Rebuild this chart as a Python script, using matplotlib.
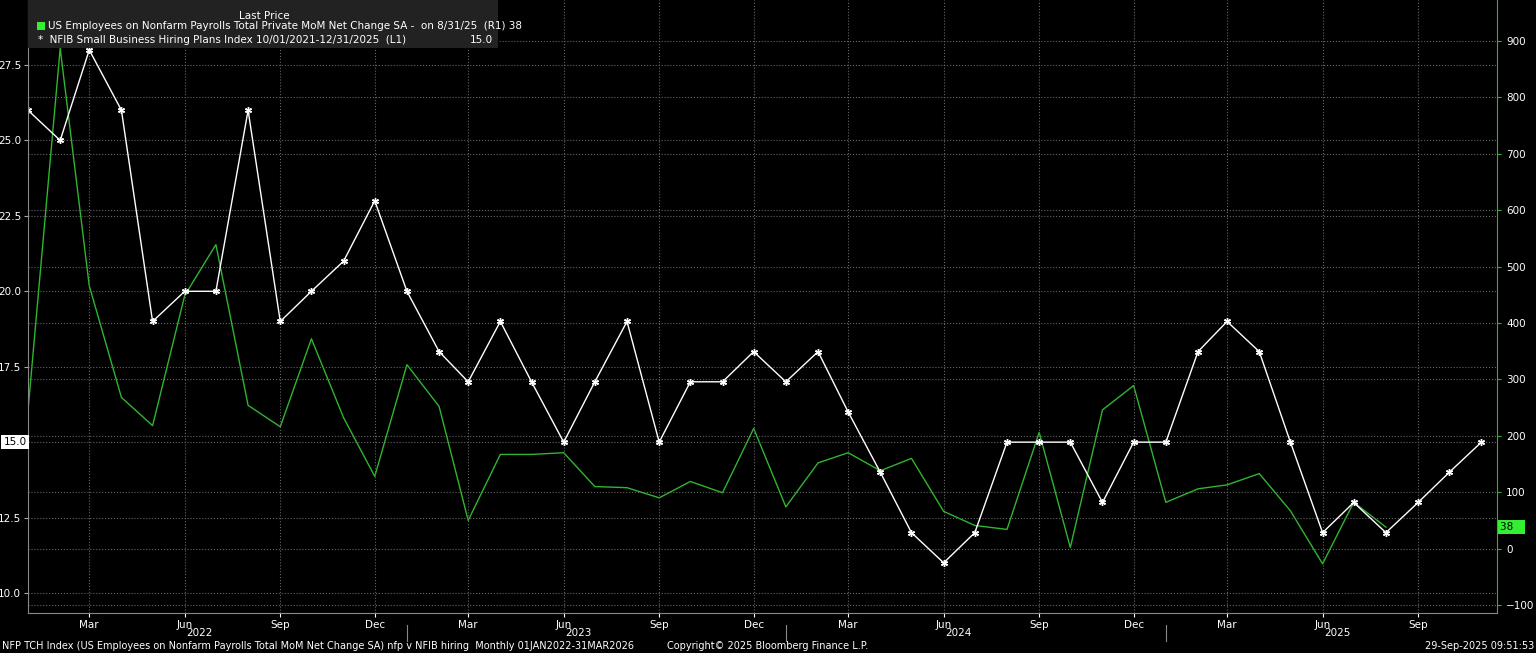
import matplotlib.pyplot as plt
import matplotlib.dates as mdates
import pandas as pd

months = pd.date_range('2022-01-01', '2025-11-01', freq='MS')
nfib = [26, 25, 28, 26, 19, 20, 20, 26, 19, 20, 21, 23,
        20, 18, 17, 19, 17, 15, 17, 19, 15, 17, 17, 18,
        17, 18, 16, 14, 12, 11, 12, 15, 15, 15, 13, 15,
        15, 18, 19, 18, 15, 12, 13, 12, 13, 14, 15]
nfp_months = pd.date_range('2022-01-01', '2025-08-01', freq='MS')
nfp = [245, 887, 466, 268, 218, 449, 539, 254, 216, 372, 232, 128,
       326, 252, 50, 167, 167, 170, 110, 108, 90, 119, 99, 213,
       74, 152, 170, 138, 160, 66, 41, 34, 206, 2, 246, 289,
       82, 106, 113, 133, 67, -27, 82, 38]

green = '#2fb52f'
fig = plt.figure(figsize=(15.36, 6.53), dpi=100, facecolor='black')
ax = fig.add_axes([28 / 1536, 40 / 653, 1469 / 1536, 613 / 653])
ax.set_facecolor('black')
ax2 = ax.twinx()

ax2.plot(nfp_months, nfp, color=green, lw=1)
ax.plot(months, nfib, color='white', lw=1, marker=(6, 2, 0), ms=5)
ax.set_zorder(ax2.get_zorder() + 1)
ax.patch.set_visible(False)

# 10 at 593px, 27.5 at 65px from top; axes spans 0..613
ax.set_ylim(10 - 20 / 30.17, 27.5 + 65 / 30.17)
ax2.set_ylim(-100 - 8 / 0.564, 900 + 41 / 0.564)
ax.set_xlim(pd.Timestamp('2022-01-01'), pd.Timestamp('2025-11-16'))

ax.set_yticks([10, 12.5, 15, 17.5, 20, 22.5, 25, 27.5])
ax.set_yticklabels(['10.0', '12.5', '', '17.5', '20.0', '22.5', '25.0', '27.5'])
ax2.set_yticks(range(-100, 1000, 100))

ax.xaxis.set_major_locator(mdates.MonthLocator(bymonth=[3, 6, 9, 12]))
ax.xaxis.set_major_formatter(mdates.DateFormatter('%b'))
for a in (ax, ax2):
    for s in a.spines.values():
        s.set_visible(False)
ax.spines['left'].set_visible(True)
ax.spines['left'].set_color('#888888')
ax.spines['bottom'].set_visible(True)
ax.spines['bottom'].set_color('#888888')
ax2.spines['right'].set_visible(True)
ax2.spines['right'].set_color(green)
ax.tick_params(axis='both', colors='white', labelsize=7.5, length=3, pad=2)
ax.tick_params(axis='y', colors='#aaaaaa', labelcolor='white')
ax2.tick_params(axis='y', colors=green, labelcolor='white', labelsize=7.5, length=3)

ax.grid(True, color='#666666', ls=':', lw=0.8)
ax2.grid(True, axis='y', color='#666666', ls=':', lw=0.8)

for yr in [2022, 2023, 2024, 2025]:
    ax.text(pd.Timestamp(f'{yr}-06-15'), -0.024, str(yr), transform=ax.get_xaxis_transform(),
            color='white', fontsize=7.5, ha='center', va='top')
for yr in [2023, 2024, 2025]:
    ax.axvline(pd.Timestamp(f'{yr}-01-01'), ymin=-0.045, ymax=-0.02, color='#888888', lw=0.8, clip_on=False)

# last value tags
ax.text(-0.001, 15, '15.0', transform=ax.get_yaxis_transform(), ha='right', va='center',
        fontsize=7.5, color='black', bbox=dict(boxstyle='square,pad=0.2', fc='white', ec='none'))
ax2.text(1.002, 38, '38   ', transform=ax2.get_yaxis_transform(), ha='left', va='center',
         fontsize=7.5, color='black', bbox=dict(boxstyle='square,pad=0.2', fc='#33ee33', ec='none'))

# legend box
fig.patches.append(plt.Rectangle((28 / 1536, 1 - 48 / 653), 470 / 1536, 48 / 653,
                                 transform=fig.transFigure, fc='#222222', ec='none', zorder=5))
fig.text(264 / 1536, 1 - 16 / 653, 'Last Price', color='white', fontsize=7.5, ha='center', va='center', zorder=6)
fig.patches.append(plt.Rectangle((37 / 1536, 1 - 30 / 653), 8 / 1536, 8 / 653,
                                 transform=fig.transFigure, fc='#33ee33', ec='none', zorder=6))
fig.text(48 / 1536, 1 - 26 / 653, 'US Employees on Nonfarm Payrolls Total Private MoM Net Change SA -  on 8/31/25  (R1) 38',
         color='white', fontsize=7.5, va='center', zorder=6)
fig.text(38 / 1536, 1 - 40 / 653, '*  NFIB Small Business Hiring Plans Index 10/01/2021-12/31/2025  (L1)',
         color='white', fontsize=7.5, va='center', zorder=6)
fig.text(493 / 1536, 1 - 40 / 653, '15.0', color='white', fontsize=7.5, va='center', ha='right', zorder=6)

fig.text(2 / 1536, 7 / 653, 'NFP TCH Index (US Employees on Nonfarm Payrolls Total MoM Net Change SA) nfp v NFIB hiring  Monthly 01JAN2022-31MAR2026',
         color='white', fontsize=7, va='center')
fig.text(0.5, 7 / 653, 'Copyright\u00a9 2025 Bloomberg Finance L.P.', color='white', fontsize=7, va='center', ha='center')
fig.text(1534 / 1536, 7 / 653, '29-Sep-2025 09:51:53', color='white', fontsize=7, va='center', ha='right')

fig.savefig('out.png', dpi=100, facecolor='black')
